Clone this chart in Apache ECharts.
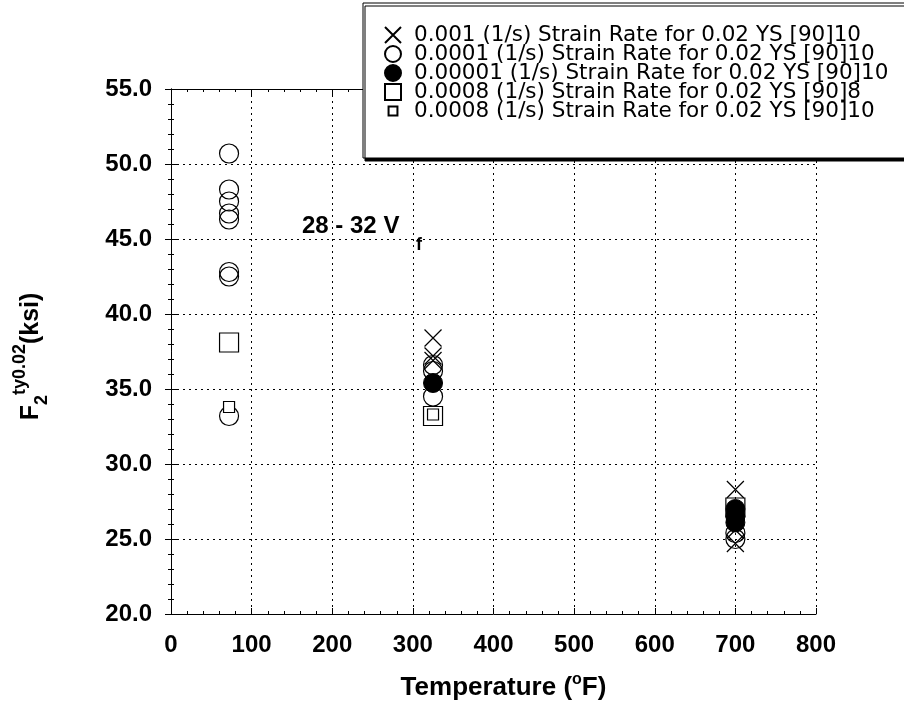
<!DOCTYPE html>
<html><head><meta charset="utf-8">
<script src="https://cdn.jsdelivr.net/npm/echarts@6/dist/echarts.min.js"></script>
<style>html,body{margin:0;padding:0;background:#fff}#c{width:904px;height:711px}</style>
</head><body><div id="c"></div>
<script>
const seriesNames = [
  '0.001 (1/s) Strain Rate for 0.02 YS [90]10',
  '0.0001 (1/s) Strain Rate for 0.02 YS [90]10',
  '0.00001 (1/s) Strain Rate for 0.02 YS [90]10',
  '0.0008 (1/s) Strain Rate for 0.02 YS [90]8',
  '0.0008 (1/s) Strain Rate for 0.02 YS [90]10'
];
// [temperature (F), F2 ty0.02 (ksi)]
const rate001_90_10 = [[325,38.4],[325,37.2],[325,36.9],[700,28.3],[700,25.6],[700,24.7]];
const rate0001_90_10 = [[72,50.7],[72,48.3],[72,47.5],[72,46.7],[72,46.3],[72,42.8],[72,42.5],[72,33.2],
                        [325,36.6],[325,36.2],[325,34.5],[700,25.4],[700,25.0]];
const rate00001_90_10 = [[325,35.4],[700,27.0],[700,26.5],[700,26.1]];
const rate0008_90_8 = [[72,38.1],[325,33.2],[700,27.1]];
const rate0008_90_10 = [[72,33.8],[325,33.3]];
const xRange = [0, 800];
const yRange = [20, 55];
const annotation = '28 - 32 V';
const annotationSub = 'f';

const FONT = "'Liberation Sans', Arial, sans-serif";
const LFONT = "'DejaVu Sans', sans-serif";
const xPath = 'path://M0,0L10,10M10,0L0,10';
const smallSq = 'path://M-4,-4M14,14M0,0L10,0L10,10L0,10Z';

const chart = echarts.init(document.getElementById('c'), null, {renderer:'canvas'});
const axisCommon = {
  axisLine:{show:true, lineStyle:{color:'#000', width:1}},
  axisTick:{show:true, inside:true, length:6, lineStyle:{color:'#000'}},
  minorTick:{show:true, splitNumber:5, length:3, lineStyle:{color:'#000'}},
};
chart.setOption({
  animation:false,
  backgroundColor:'#fff',
  grid:{left:171, right:88, top:89, bottom:97, containLabel:false},
  xAxis:[
    Object.assign({type:'value', min:xRange[0], max:xRange[1], interval:100, position:'bottom',
      axisLabel:{color:'#000', fontFamily:FONT, fontWeight:'bold', fontSize:24, margin:19},
      splitLine:{show:true, lineStyle:{color:'#000', type:[2,4], width:1}},
      name:'{t|Temperature (}{s|o}{t|F)}', nameLocation:'middle', nameGap:58,
      nameTextStyle:{padding:[0,0,0,20], rich:{t:{fontFamily:FONT, fontWeight:'bold', fontSize:26, color:'#000', lineHeight:32},
                           s:{fontFamily:FONT, fontWeight:'bold', fontSize:16, color:'#000', verticalAlign:'top', lineHeight:32}}}
    }, axisCommon),
    Object.assign({type:'value', min:xRange[0], max:xRange[1], interval:100, position:'top',
      axisLabel:{show:false}, splitLine:{show:false}}, axisCommon)
  ],
  yAxis:[
    Object.assign({type:'value', min:yRange[0], max:yRange[1], interval:5, position:'left',
      axisLabel:{color:'#000', fontFamily:FONT, fontWeight:'bold', fontSize:24, margin:19,
        formatter:v=>v.toFixed(1)},
      splitLine:{show:true, lineStyle:{color:'#000', type:[2,4], width:1}},
      name:'{F|F}{b|2}{s|ty0.02}{F|(ksi)}', nameLocation:'middle', nameRotate:90, nameGap:120,
      nameTextStyle:{padding:[0,10,0,0], rich:{F:{fontFamily:FONT, fontWeight:'bold', fontSize:25, color:'#000', lineHeight:40},
                           b:{fontFamily:FONT, fontWeight:'bold', fontSize:18, color:'#000', verticalAlign:'bottom', lineHeight:40},
                           s:{fontFamily:FONT, fontWeight:'bold', fontSize:18, color:'#000', verticalAlign:'top', lineHeight:40}}}
    }, axisCommon),
    Object.assign({type:'value', min:yRange[0], max:yRange[1], interval:5, position:'right',
      axisLabel:{show:false}, splitLine:{show:false}}, axisCommon)
  ],
  legend:{
    orient:'vertical', left:363, top:3,
    padding:[21, 40, 36, 21],
    itemWidth:16, itemHeight:16, itemGap:-3,
    backgroundColor:'#fff', borderColor:'#000', borderWidth:1,
    shadowColor:'#000', shadowBlur:0, shadowOffsetX:2, shadowOffsetY:3,
    textStyle:{fontFamily:LFONT, fontSize:21.5, color:'#000', lineHeight:19, padding:[0,0,0,8]},
    data:[
      {name:seriesNames[0]},
      {name:seriesNames[1]},
      {name:seriesNames[2]},
      {name:seriesNames[3]},
      {name:seriesNames[4], icon:smallSq}
    ]
  },
  graphic:[
    {type:'text', left:302, top:214, z:10,
     style:{text:annotation, fontFamily:FONT, fontWeight:'bold', fontSize:24, fill:'#000'}},
    {type:'text', left:416, top:236, z:10,
     style:{text:annotationSub, fontFamily:FONT, fontWeight:'bold', fontSize:18, fill:'#000'}}
  ],
  series:[
    {name:seriesNames[0], type:'scatter', data:rate001_90_10, symbol:xPath, symbolSize:17,
      itemStyle:{color:'transparent', borderColor:'#000', borderWidth:1.2, opacity:1}, z:2},
    {name:seriesNames[1], type:'scatter', data:rate0001_90_10, symbol:'circle', symbolSize:19,
      itemStyle:{color:'transparent', borderColor:'#000', borderWidth:1.2, opacity:1}, z:2},
    {name:seriesNames[2], type:'scatter', data:rate00001_90_10, symbol:'circle', symbolSize:19,
      itemStyle:{color:'#000', borderColor:'#000', borderWidth:1, opacity:1}, z:4},
    {name:seriesNames[3], type:'scatter', data:rate0008_90_8, symbol:'rect', symbolSize:19,
      itemStyle:{color:'transparent', borderColor:'#000', borderWidth:1.2, opacity:1}, z:3},
    {name:seriesNames[4], type:'scatter', data:rate0008_90_10, symbol:'rect', symbolSize:11,
      itemStyle:{color:'#fff', borderColor:'#000', borderWidth:1.2, opacity:1}, z:5}
  ]
});
</script></body></html>
